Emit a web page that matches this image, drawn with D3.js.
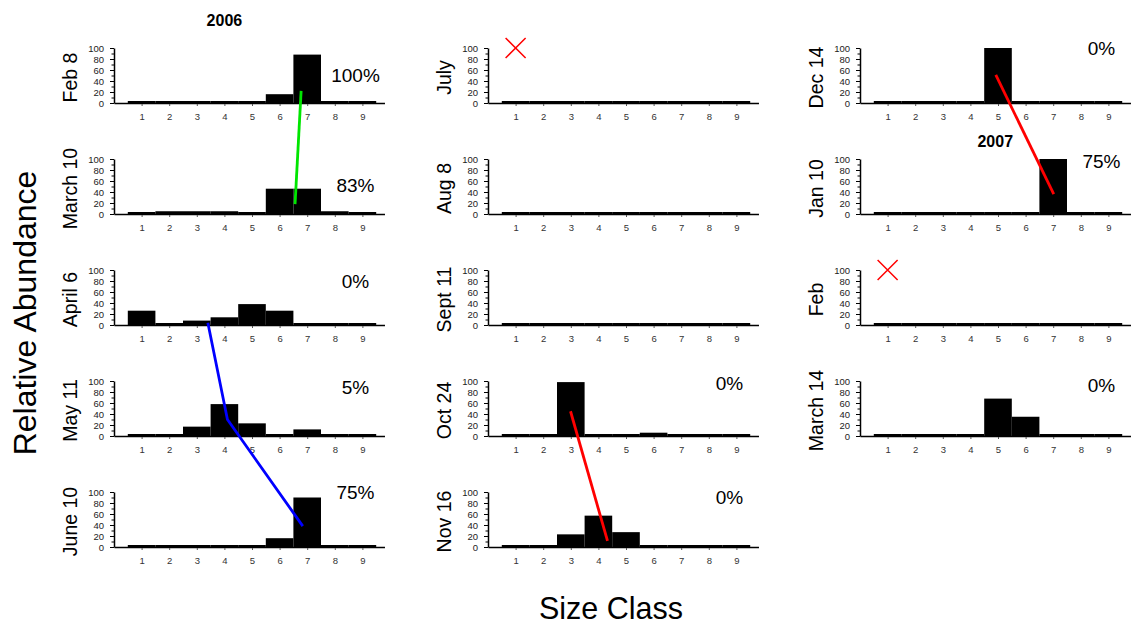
<!DOCTYPE html>
<html>
<head>
<meta charset="utf-8">
<script src="https://cdn.jsdelivr.net/npm/d3@7"></script>
<style>
  html, body { margin: 0; padding: 0; background: #fff; }
  svg { display: block; font-family: Arial, "Liberation Sans", sans-serif; }
</style>
</head>
<body>
<svg id="chart" width="1138" height="628"></svg>
<script>
// Size classes on the x axis of every panel
const sizeClasses = [1, 2, 3, 4, 5, 6, 7, 8, 9];

// Sampling dates, column by column (five panels per column)
const sampleDates = [
  "Feb 8", "March 10", "April 6", "May 11", "June 10",
  "July", "Aug 8", "Sept 11", "Oct 24", "Nov 16",
  "Dec 14", "Jan 10", "Feb", "March 14"
];

// Relative abundance (%) per size class for each date
const abundance = [
  [0, 0, 0, 0, 0, 16, 88, 0, 0],
  [0, 5, 5, 5, 0, 46, 46, 5, 0],
  [26, 0, 8, 14, 38, 26, 0, 0, 0],
  [0, 0, 17, 58, 23, 0, 12, 0, 0],
  [0, 0, 0, 0, 0, 16, 90, 0, 0],
  [0, 0, 0, 0, 0, 0, 0, 0, 0],
  [0, 0, 0, 0, 0, 0, 0, 0, 0],
  [0, 0, 0, 0, 0, 0, 0, 0, 0],
  [0, 0, 98, 0, 0, 6, 0, 0, 0],
  [0, 0, 23, 57, 27, 0, 0, 0, 0],
  [0, 0, 0, 3, 100, 0, 0, 0, 0],
  [0, 0, 0, 0, 0, 0, 100, 0, 0],
  [0, 0, 0, 0, 0, 0, 0, 0, 0],
  [0, 0, 0, 0, 68, 35, 0, 0, 0]
];

// Percentage shown in each panel (null = none)
const percentLabels = ["100%", "83%", "0%", "5%", "75%", null, null, null, "0%", "0%", "0%", "75%", null, "0%"];
// Height (in % units) at which each percentage sits
const percentLevel = [51, 53, 80, 89, 100, 0, 0, 0, 96, 91, 100, 95, 0, 93];

// Dates with no sample, marked with a cross at size class 1
const noSampleDates = ["July", "Feb"];

// Year headings: [text, panel date, size-class position, % level]
const yearHeadings = [["2006", "Feb 8", 4.0, 140], ["2007", "Jan 10", 4.9, 122]];

// Cohort tracks linking panels: [date, size class, % level]
const greenTrack = [["Feb 8", 6.78, 22], ["March 10", 6.56, 18]];
const blueTrack = [["April 6", 3.4, 4], ["May 11", 4.11, 30], ["June 10", 6.84, 38]];
const redTrackA = [["Oct 24", 2.99, 45], ["Nov 16", 4.33, 11]];
const redTrackB = [["Dec 14", 4.92, 51], ["Jan 10", 7.02, 36]];

// ---- layout ----
const svg = d3.select("#chart");
const colLeft = [114, 488, 860];
const plotW = 276;           // width spanned by x domain [0, 10]
const axisEnd = 9.8;         // where the x axis line stops
const plotH = 55;            // height spanned by 0..100 %
const firstBase = 103;
const rowStep = 111;
const font = "Arial, 'Liberation Sans', sans-serif";

function panelOf(i) {
  const col = Math.floor(i / 5), row = i % 5;
  return { x0: colLeft[col], base: firstBase + row * rowStep };
}

const x = d3.scaleLinear().domain([0, 10]).range([0, plotW]);
const y = d3.scaleLinear().domain([0, 100]).range([plotH, 0]);

// global coordinate helpers for a panel
function gx(i, v) { return panelOf(i).x0 + x(v); }
function gy(i, v) { return panelOf(i).base - plotH + y(v); }

sampleDates.forEach((date, i) => {
  const p = panelOf(i);
  const g = svg.append("g").attr("transform", `translate(${p.x0},${p.base - plotH})`);

  // y axis with major (labelled) and minor ticks
  const ya = d3.axisLeft(y).tickValues(d3.range(0, 101, 10))
    .tickFormat(d => d % 20 === 0 ? d : "").tickSizeOuter(0).tickPadding(2);
  const yg = g.append("g").call(ya);
  yg.selectAll(".tick line").attr("x2", d => d % 20 === 0 ? -4 : -2.5).attr("stroke-width", 1);
  yg.selectAll(".tick text").attr("font-size", 9.5).attr("fill", "#222").attr("font-family", font).attr("dx", -2);
  yg.select(".domain").attr("stroke-width", 1.5);

  // x axis
  const xs = x.copy().domain([0, axisEnd]).range([0, x(axisEnd)]);
  const xa = d3.axisBottom(xs).tickValues(sizeClasses).tickSize(3).tickSizeOuter(0).tickPadding(7);
  const xg = g.append("g").attr("transform", `translate(0,${plotH})`).call(xa);
  xg.selectAll(".tick text").attr("font-size", 9.5).attr("fill", "#333").attr("font-family", font);
  xg.selectAll(".tick line").attr("stroke", "#555");
  xg.select(".domain").attr("stroke-width", 1.5);

  // bars
  g.append("g").selectAll("rect").data(abundance[i]).join("rect")
    .attr("x", (d, k) => x(sizeClasses[k] - 0.5))
    .attr("width", x(1) - x(0))
    .attr("y", d => Math.min(y(d), plotH - 2))
    .attr("height", d => Math.max(plotH - y(d), 2) + 1)
    .attr("fill", "#000");

  // date label
  g.append("text")
    .attr("transform", `translate(-37.5,${plotH / 2 + 2}) rotate(-90)`)
    .attr("text-anchor", "middle")
    .attr("font-size", 19.5).attr("font-family", font)
    .text(date);

  // percentage label
  if (percentLabels[i]) {
    g.append("text")
      .attr("x", x(8.75)).attr("y", y(percentLevel[i]))
      .attr("dy", "0.35em")
      .attr("text-anchor", "middle")
      .attr("font-size", 19).attr("font-family", font)
      .text(percentLabels[i]);
  }
});

// no-sample crosses
noSampleDates.forEach(date => {
  const i = sampleDates.indexOf(date);
  const cx = gx(i, 1), cy = gy(i, 100), r = 10;
  svg.append("path")
    .attr("d", `M${cx - r},${cy - r}L${cx + r},${cy + r}M${cx - r},${cy + r}L${cx + r},${cy - r}`)
    .attr("stroke", "#ff0000").attr("stroke-width", 1.5).attr("fill", "none");
});

// year headings
yearHeadings.forEach(([t, date, cls, lvl]) => {
  const i = sampleDates.indexOf(date);
  svg.append("text")
    .attr("x", gx(i, cls)).attr("y", gy(i, lvl))
    .attr("text-anchor", "middle")
    .attr("font-size", 16).attr("font-weight", "bold").attr("font-family", font)
    .text(t);
});

// cohort tracks
const line = d3.line().x(d => gx(sampleDates.indexOf(d[0]), d[1])).y(d => gy(sampleDates.indexOf(d[0]), d[2]));
[[greenTrack, "#00e600"], [blueTrack, "#0000ff"], [redTrackA, "#ff0000"], [redTrackB, "#ff0000"]]
  .forEach(([pts, c]) => {
    svg.append("path").attr("d", line(pts)).attr("fill", "none")
      .attr("stroke", c).attr("stroke-width", 2.8);
  });

// axis titles
svg.append("text")
  .attr("transform", "translate(36,313) rotate(-90)")
  .attr("text-anchor", "middle").attr("font-size", 32).attr("font-family", font)
  .text("Relative Abundance");
svg.append("text")
  .attr("x", 611).attr("y", 619)
  .attr("text-anchor", "middle").attr("font-size", 30.5).attr("font-family", font)
  .text("Size Class");
</script>
</body>
</html>
